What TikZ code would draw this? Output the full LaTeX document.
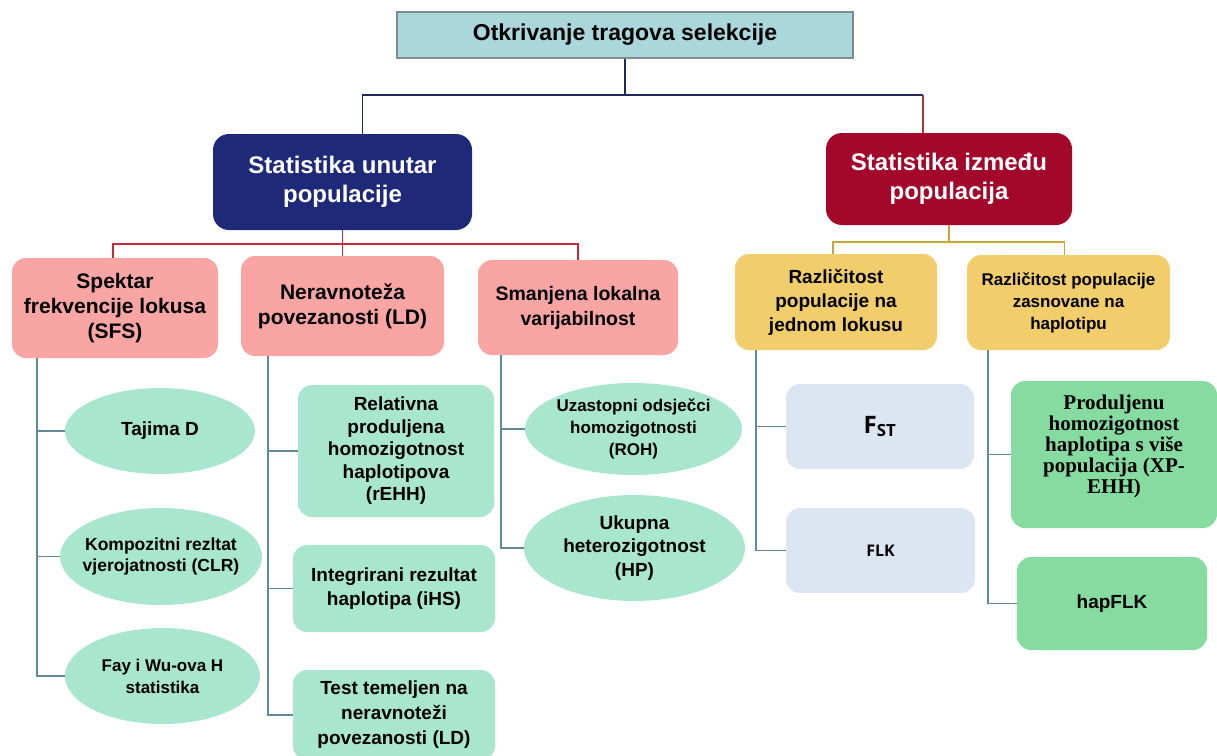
\documentclass[tikz,border=0pt]{standalone}
\usepackage{fontspec}
\setmainfont{Liberation Sans}
\newfontfamily\serifbold{Liberation Serif}
\newfontfamily\opensans{Open Sans}
\usetikzlibrary{shapes.geometric}

\definecolor{topfill}{HTML}{A9D7DC}
\definecolor{topline}{HTML}{7F8C8D}
\definecolor{navyfill}{HTML}{1E2A78}
\definecolor{navyline}{HTML}{1F2A5C}
\definecolor{wine}{HTML}{A3072A}
\definecolor{wineline}{HTML}{9A3A3A}
\definecolor{pinkfill}{HTML}{F9A5A4}
\definecolor{redline}{HTML}{C42B3A}
\definecolor{mint}{HTML}{A8E6CF}
\definecolor{amber}{HTML}{F2CD6B}
\definecolor{goldline}{HTML}{C9A53A}
\definecolor{paleblue}{HTML}{DCE6F2}
\definecolor{leaf}{HTML}{86DCA0}
\definecolor{stemline}{HTML}{62899A}

\tikzset{
  every node/.style={inner sep=0pt, align=center, font=\bfseries},
  rootbox/.style={draw=topline, line width=1.2pt, fill=topfill},
  groupbox/.style={rounded corners=16pt, text=white},
  methodbox/.style={rounded corners=14pt, fill=pinkfill},
  leafoval/.style={ellipse, fill=mint},
  leafbox/.style={rounded corners=14pt, fill=mint},
  lociobox/.style={rounded corners=14pt, fill=amber},
  statbox/.style={rounded corners=14pt, fill=paleblue},
  hapbox/.style={rounded corners=14pt, fill=leaf},
  link/.style={line width=1.5pt},
  stem/.style={line width=1.6pt, draw=stemline},
}

\begin{document}
\begin{tikzpicture}[x=1pt,y=1pt,yscale=-1,xscale=1]
\useasboundingbox (0,0) rectangle (1217,755);

% Root
\node [rootbox, minimum width=456pt, minimum height=46pt, font=\bfseries\fontsize{23}{28}\selectfont] (root) at (625,35) {Otkrivanje tragova selekcije};

% Two groups
\node [groupbox, fill=navyfill, minimum width=259pt, minimum height=96pt, font=\bfseries\fontsize{24}{29}\selectfont] (within) at (342.5,182) {Statistika unutar\\populacije};
\node [groupbox, fill=wine, minimum width=246pt, minimum height=92pt, font=\bfseries\fontsize{24}{29}\selectfont] (between) at (949,179) {Statistika između\\populacija};

% Within-population methods
\node [methodbox, minimum width=206pt, minimum height=100pt, font=\bfseries\fontsize{21}{25}\selectfont] (sfs) at (115,308) {Spektar\\frekvencije lokusa\\(SFS)};
\node [methodbox, minimum width=203pt, minimum height=100pt, font=\bfseries\fontsize{21}{25}\selectfont] (ld) at (342.5,306) {Neravnoteža\\povezanosti (LD)};
\node [methodbox, minimum width=200pt, minimum height=95pt, font=\bfseries\fontsize{19.5}{25}\selectfont] (var) at (578,307.5) {Smanjena lokalna\\varijabilnost};

% Between-population methods
\node [lociobox, minimum width=202pt, minimum height=96pt, font=\bfseries\fontsize{19}{24}\selectfont] (single) at (836,302) {Različitost\\populacije na\\jednom lokusu};
\node [lociobox, minimum width=203pt, minimum height=95pt, font=\bfseries\fontsize{17}{22}\selectfont] (hapdiv) at (1068.5,302.5) {Različitost populacije\\zasnovane na\\haplotipu};

% SFS tests
\node [leafoval, minimum width=190pt, minimum height=86pt, font=\bfseries\fontsize{19}{23}\selectfont] (tajima) at (160,431) {Tajima D};
\node [leafoval, inner xsep=-10pt, minimum width=202pt, minimum height=97pt, font=\bfseries\fontsize{17.5}{21}\selectfont] (clr) at (161,556.5) {Kompozitni rezltat\\vjerojatnosti (CLR)};
\node [leafoval, minimum width=195pt, minimum height=96pt, font=\bfseries\fontsize{17}{22}\selectfont] (fayh) at (162.5,676) {Fay i Wu-ova H\\statistika};

% LD tests
\node [leafbox, minimum width=196pt, minimum height=132pt, font=\bfseries\fontsize{19}{22.5}\selectfont] (rehh) at (396,451) {Relativna\\produljena\\homozigotnost\\haplotipova\\(rEHH)};
\node [leafbox, minimum width=202pt, minimum height=87pt, font=\bfseries\fontsize{19}{24}\selectfont] (ihs) at (394,588.5) {Integrirani rezultat\\haplotipa (iHS)};
\node [leafbox, minimum width=202pt, minimum height=90pt, font=\bfseries\fontsize{19}{25}\selectfont] (ldtest) at (394,715) {Test temeljen na\\neravnoteži\\povezanosti (LD)};

% Local variability tests
\node [leafoval, inner xsep=-6pt, minimum width=217pt, minimum height=92pt, font=\bfseries\fontsize{17}{22}\selectfont] (roh) at (633.5,429) {Uzastopni odsječci\\homozigotnosti\\(ROH)};
\node [leafoval, minimum width=221pt, minimum height=106pt, font=\bfseries\fontsize{19}{23.5}\selectfont] (hp) at (634.5,548) {Ukupna\\heterozigotnost\\(HP)};

% Single-locus statistics
\node [statbox, minimum width=188pt, minimum height=85pt, font=\opensans\bfseries\fontsize{24}{28}\selectfont] (fst) at (880,426.5) {F\textsubscript{ST}};
\node [statbox, minimum width=189pt, minimum height=85pt, font=\opensans\bfseries\fontsize{16}{20}\selectfont] (flk) at (880.5,550.5) {FLK};

% Haplotype statistics
\node [hapbox, minimum width=206pt, minimum height=147pt, font=\serifbold\bfseries\fontsize{21}{21}\selectfont] (xpehh) at (1114,454.5) {Produljenu\\homozigotnost\\haplotipa s više\\populacija (XP-\\EHH)\\[0pt]\mbox{}};
\node [hapbox, minimum width=190pt, minimum height=93pt, font=\bfseries\fontsize{19}{23}\selectfont] (hapflk) at (1112,603.5) {hapFLK};

% Root to groups
\coordinate (rootbus) at (625,95);
\draw [link, navyline] (root.south) -- (rootbus);
\draw [link, navyline] (rootbus) -| ([xshift=20]within.north);
\draw [link, navyline] (rootbus) -- (923,95);
\draw [link, wineline] (923,95) -- ([xshift=-26]between.north);

% Within group to methods
\coordinate (withinbus) at (342.5,244);
\draw [link, redline] (within.south) -- (withinbus);
\draw [link, redline] (withinbus) -| ([xshift=-2]sfs.north);
\draw [link, redline] (withinbus) -| (ld.north);
\draw [link, redline] (withinbus) -| (var.north);

% Between group to methods
\coordinate (betweenbus) at (949,242);
\draw [link, goldline] (between.south) -- (betweenbus);
\draw [link, goldline] (betweenbus) -| ([xshift=-3]single.north);
\draw [link, goldline] (betweenbus) -| ([xshift=-4]hapdiv.north);

% Stems to tests
\coordinate (sfsstem) at (37,358);
\draw [stem] (sfsstem) |- (tajima.west);
\draw [stem] (sfsstem) |- (clr.west);
\draw [stem] (sfsstem) |- (fayh.west);

\coordinate (ldstem) at (268,356);
\draw [stem] (ldstem) |- (rehh.west);
\draw [stem] (ldstem) |- (ihs.west);
\draw [stem] (ldstem) |- (ldtest.west);

\coordinate (varstem) at (501,355);
\draw [stem] (varstem) |- (roh.west);
\draw [stem] (varstem) |- (hp.west);

\coordinate (singlestem) at (756,350);
\draw [stem] (singlestem) |- (fst.west);
\draw [stem] (singlestem) |- (flk.west);

\coordinate (hapstem) at (988,350);
\draw [stem] (hapstem) |- (xpehh.west);
\draw [stem] (hapstem) |- (hapflk.west);

\end{tikzpicture}
\end{document}
